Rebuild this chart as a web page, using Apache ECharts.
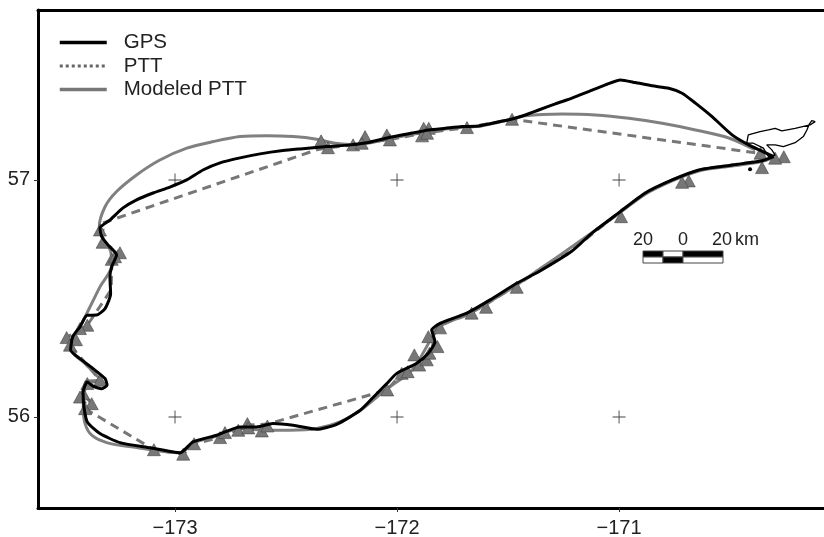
<!DOCTYPE html>
<html>
<head>
<meta charset="utf-8">
<style>html,body{margin:0;padding:0;background:#fff}#c{width:824px;height:537px}</style>
<script src="https://cdn.jsdelivr.net/npm/echarts@6/dist/echarts.min.js"></script>
</head>
<body>
<div id="c"></div>
<script>
const lonTicks = [-173, -172, -171];
const latTicks = [56, 57];
const scaleLabels = ['20', '0', '20', 'km'];

const gps = [[-170.303,57.098],[-170.416,57.148],[-170.491,57.190],[-170.581,57.267],[-170.656,57.324],[-170.716,57.366],[-170.776,57.387],[-170.851,57.397],[-170.927,57.411],[-170.994,57.422],[-171.062,57.401],[-171.137,57.373],[-171.212,57.345],[-171.287,57.321],[-171.362,57.295],[-171.422,57.274],[-171.482,57.257],[-171.557,57.242],[-171.632,57.228],[-171.707,57.225],[-171.782,57.218],[-171.857,57.211],[-171.932,57.198],[-172.046,57.177],[-172.136,57.157],[-172.212,57.148],[-172.317,57.141],[-172.437,57.131],[-172.514,57.124],[-172.617,57.110],[-172.707,57.093],[-172.797,57.072],[-172.874,57.042],[-172.947,57.000],[-173.023,56.970],[-173.099,56.945],[-173.173,56.916],[-173.234,56.882],[-173.293,56.831],[-173.338,56.797],[-173.330,56.761],[-173.302,56.726],[-173.263,56.684],[-173.285,56.634],[-173.293,56.591],[-173.290,56.520],[-173.315,56.457],[-173.353,56.430],[-173.396,56.429],[-173.428,56.380],[-173.461,56.338],[-173.470,56.283],[-173.428,56.246],[-173.369,56.204],[-173.315,56.162],[-173.306,56.134],[-173.330,56.119],[-173.369,56.130],[-173.395,56.148],[-173.414,56.105],[-173.410,56.042],[-173.395,55.979],[-173.338,55.930],[-173.248,55.892],[-173.113,55.870],[-172.977,55.849],[-172.919,55.895],[-172.812,55.923],[-172.707,55.958],[-172.632,55.958],[-172.559,55.972],[-172.468,55.965],[-172.362,55.948],[-172.272,55.969],[-172.167,56.027],[-172.108,56.082],[-172.046,56.141],[-172.001,56.184],[-171.911,56.227],[-171.859,56.269],[-171.829,56.318],[-171.844,56.367],[-171.806,56.395],[-171.686,56.438],[-171.581,56.494],[-171.461,56.564],[-171.356,56.616],[-171.212,56.700],[-171.122,56.776],[-171.005,56.859],[-170.882,56.945],[-170.761,57.000],[-170.641,57.042],[-170.491,57.063],[-170.356,57.081],[-170.303,57.098]];

const modeled = [[-170.387,57.127],[-170.506,57.177],[-170.656,57.211],[-170.806,57.239],[-170.956,57.260],[-171.107,57.274],[-171.257,57.278],[-171.422,57.271],[-171.482,57.257],[-171.557,57.240],[-171.632,57.226],[-171.707,57.222],[-171.857,57.205],[-171.932,57.192],[-172.046,57.172],[-172.136,57.155],[-172.212,57.150],[-172.287,57.156],[-172.362,57.172],[-172.467,57.183],[-172.587,57.187],[-172.707,57.183],[-172.827,57.162],[-172.947,57.134],[-173.068,57.084],[-173.173,57.021],[-173.263,56.951],[-173.315,56.887],[-173.341,56.803],[-173.325,56.755],[-173.290,56.700],[-173.285,56.640],[-173.338,56.549],[-173.383,56.464],[-173.428,56.380],[-173.460,56.338],[-173.468,56.285],[-173.405,56.225],[-173.338,56.156],[-173.400,56.150],[-173.413,56.042],[-173.405,55.972],[-173.375,55.923],[-173.308,55.892],[-173.189,55.873],[-172.977,55.849],[-172.919,55.890],[-172.812,55.920],[-172.707,55.951],[-172.587,55.944],[-172.482,55.944],[-172.362,55.951],[-172.257,55.979],[-172.167,56.027],[-172.046,56.119],[-171.932,56.198],[-171.806,56.381],[-171.686,56.430],[-171.581,56.487],[-171.461,56.557],[-171.356,56.625],[-171.206,56.722],[-171.010,56.852],[-170.882,56.940],[-170.761,56.996],[-170.641,57.038],[-170.491,57.059],[-170.356,57.078],[-170.303,57.095]];

const ptt = [[-170.387,57.115],[-171.482,57.256],[-171.685,57.221],[-171.874,57.198],[-172.041,57.169],[-172.158,57.156],[-172.198,57.148],[-172.311,57.136],[-172.362,57.127],[-173.324,56.819],[-173.326,56.737],[-173.248,56.693],[-173.284,56.654],[-173.288,56.536],[-173.395,56.387],[-173.488,56.335],[-173.473,56.303],[-173.338,56.156],[-173.395,56.141],[-173.413,56.098],[-173.375,56.056],[-173.405,56.035],[-173.095,55.862],[-172.963,55.843],[-172.914,55.887],[-172.797,55.913],[-172.676,55.966],[-172.584,55.970],[-172.044,56.114],[-171.979,56.184],[-171.901,56.219],[-171.840,56.297],[-171.830,56.376],[-171.664,56.442],[-171.599,56.475],[-171.461,56.557],[-171.212,56.703],[-171.005,56.859],[-170.882,56.945],[-170.761,57.000],[-170.641,57.042],[-170.491,57.063],[-170.356,57.081],[-170.297,57.095]];

const fixes = [[-172.342,57.165],[-172.311,57.136],[-172.198,57.148],[-172.144,57.183],[-172.159,57.155],[-172.046,57.190],[-172.032,57.169],[-173.338,56.789],[-173.326,56.737],[-173.248,56.693],[-173.285,56.665],[-173.270,56.676],[-171.880,57.218],[-171.857,57.218],[-171.887,57.186],[-171.865,57.197],[-171.685,57.221],[-171.482,57.256],[-170.258,57.098],[-170.297,57.092],[-170.356,57.052],[-170.363,57.113],[-170.686,56.996],[-170.716,56.990],[-170.991,56.845],[-173.395,56.387],[-173.428,56.373],[-173.488,56.335],[-173.446,56.326],[-173.473,56.303],[-173.338,56.155],[-173.395,56.141],[-173.413,56.098],[-173.428,56.084],[-173.375,56.056],[-173.405,56.035],[-173.095,55.862],[-172.963,55.843],[-172.914,55.887],[-172.797,55.913],[-172.775,55.934],[-172.715,55.944],[-172.674,55.972],[-172.670,55.954],[-172.609,55.941],[-172.584,55.962],[-172.044,56.114],[-171.979,56.184],[-171.952,56.191],[-171.922,56.262],[-171.900,56.219],[-171.866,56.241],[-171.854,56.269],[-171.818,56.297],[-171.859,56.339],[-171.806,56.376],[-171.664,56.438],[-171.599,56.463],[-171.461,56.547]];

const island = [[-170.425,57.155],[-170.418,57.190],[-170.365,57.204],[-170.327,57.211],[-170.297,57.218],[-170.267,57.207],[-170.207,57.218],[-170.140,57.232],[-170.117,57.246],[-170.132,57.250],[-170.143,57.236],[-170.154,57.211],[-170.170,57.183],[-170.207,57.157],[-170.260,57.141],[-170.297,57.148],[-170.335,57.148],[-170.312,57.127],[-170.297,57.105],[-170.327,57.098],[-170.350,57.134],[-170.395,57.155],[-170.425,57.155]];
const islet = [[-170.410,57.045]];

const graticule = [];
lonTicks.forEach(x => latTicks.forEach(y => graticule.push([x, y])));

const FONT = '"Liberation Sans", Arial, sans-serif';
const TXT = '#222';
const chart = echarts.init(document.getElementById('c'), null, {renderer: 'canvas'});
const xBase = {
  type: 'value', min: -173.617, max: -170.077, splitLine: {show: false}
};
const sbY = 251, sbMid = 257, sbBot = 263;
function sbRect(x, y, w, h, fill) {
  return {type: 'rect', shape: {x, y, width: w, height: h}, style: {fill, stroke: '#444', lineWidth: 1}, z: 20};
}
function sbText(text, x, align) {
  return {type: 'text', x, y: 240, style: {text, fill: TXT, font: '18px ' + FONT, align: align || 'center', verticalAlign: 'middle'}, z: 20};
}
chart.setOption({
  animation: false,
  backgroundColor: '#fff',
  grid: {left: 38, right: 0, top: 10, bottom: 29, outerBoundsMode: 'none'},
  legend: {
    left: 53, top: 27, orient: 'vertical', itemWidth: 47, itemHeight: 14, itemGap: 2.5,
    itemStyle: {opacity: 0},
    textStyle: {fontFamily: FONT, fontSize: 20.5, color: TXT, padding: [0, 0, 0, 12]},
    data: [
      {name: 'GPS', lineStyle: {color: '#000', width: 3.5}},
      {name: 'PTT', lineStyle: {type: [3, 3], color: '#666', width: 3}},
      {name: 'Modeled PTT', lineStyle: {color: '#777', width: 3.5}}
    ]
  },
  xAxis: [
    Object.assign({}, xBase, {
      position: 'bottom',
      axisLine: {show: true, onZero: false, lineStyle: {color: '#000', width: 3}},
      axisTick: {show: true, customValues: lonTicks, length: 4, lineStyle: {color: '#333', width: 1}},
      axisLabel: {show: true, customValues: lonTicks, margin: 10, fontFamily: FONT, fontSize: 20, color: TXT,
        formatter: v => '\u2212' + Math.abs(v)}
    }),
    Object.assign({}, xBase, {
      position: 'top',
      axisLine: {show: true, onZero: false, lineStyle: {color: '#000', width: 3}},
      axisTick: {show: false}, axisLabel: {show: false}
    })
  ],
  yAxis: {
    type: 'value', min: 55.616, max: 57.717, splitLine: {show: false},
    axisLine: {show: true, onZero: false, lineStyle: {color: '#000', width: 3}},
    axisTick: {show: true, customValues: latTicks, length: 4, lineStyle: {color: '#333', width: 1}},
    axisLabel: {show: true, customValues: latTicks, margin: 8, fontFamily: FONT, fontSize: 20, color: TXT}
  },
  series: [
    {name: 'graticule', type: 'scatter', data: graticule, symbol: 'path://M9.3 0h1.4v20h-1.4zM0 9.3h20v1.4H0z', symbolSize: 13,
      itemStyle: {color: '#444', opacity: 1}, z: 1, silent: true},
    {name: 'Modeled PTT', type: 'line', data: modeled, showSymbol: false, symbol: 'none', smooth: 0.3,
      lineStyle: {color: '#808080', width: 3}, itemStyle: {color: '#808080'}, z: 2},
    {name: 'PTT', type: 'line', data: ptt, showSymbol: false, symbol: 'none',
      lineStyle: {color: '#777', width: 3, type: [9, 6]}, itemStyle: {color: '#777'}, z: 3},
    {name: 'fixes', type: 'scatter', data: fixes, symbol: 'triangle', symbolSize: [13, 12],
      itemStyle: {color: '#777', borderColor: '#444', borderWidth: 0.6, opacity: 1}, z: 4},
    {name: 'GPS', type: 'line', data: gps, showSymbol: false, symbol: 'none', smooth: 0.2,
      lineStyle: {color: '#000', width: 3}, itemStyle: {color: '#000'}, z: 5},
    {name: 'island', type: 'line', data: island, showSymbol: false, symbol: 'none',
      lineStyle: {color: '#000', width: 1.3}, z: 5},
    {name: 'islet', type: 'scatter', data: islet, symbol: 'circle', symbolSize: 4, itemStyle: {color: '#000', opacity: 1}, z: 5}
  ],
  graphic: [
    sbRect(643, sbY, 20, 6, '#000'), sbRect(663, sbY, 20, 6, '#fff'), sbRect(683, sbY, 40, 6, '#000'),
    sbRect(643, sbMid, 20, 6, '#fff'), sbRect(663, sbMid, 20, 6, '#000'), sbRect(683, sbMid, 40, 6, '#fff'),
    sbText(scaleLabels[0], 643), sbText(scaleLabels[1], 683), sbText(scaleLabels[2], 722), sbText(scaleLabels[3], 735, 'left')
  ]
});
</script>
</body>
</html>
